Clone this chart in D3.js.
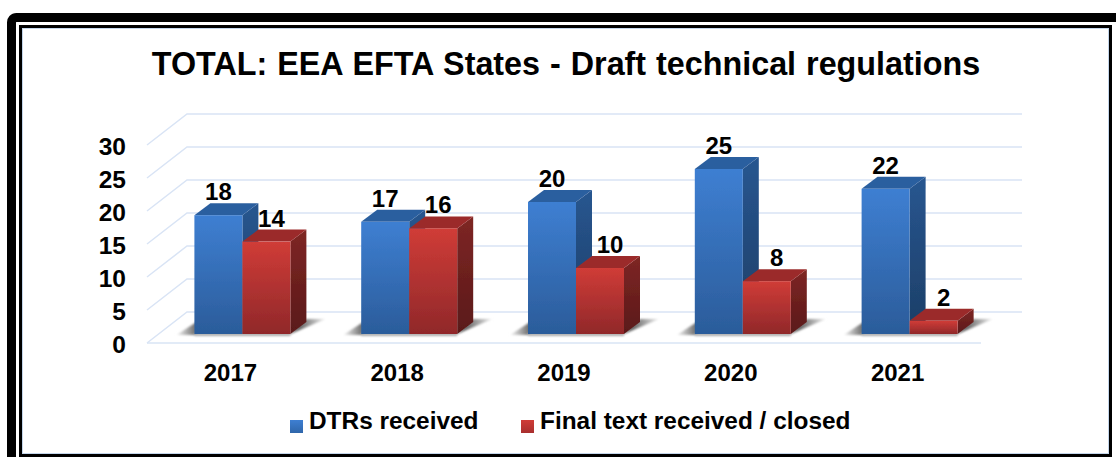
<!DOCTYPE html>
<html>
<head>
<meta charset="utf-8">
<script src="https://d3js.org/d3.v7.min.js"></script>
<title>EEA EFTA States - Draft technical regulations</title>
<style>
  body { margin: 0; background: #fff; }
  svg { display: block; }
  text { font-family: "Liberation Sans", Arial, sans-serif; font-weight: bold; fill: #000; }
</style>
</head>
<body>
<div id="chart"></div>
<script>
var years = ["2017", "2018", "2019", "2020", "2021"];
var seriesNames = ["DTRs received", "Final text received / closed"];
var dtrsReceived = [18, 17, 20, 25, 22];
var finalText = [14, 16, 10, 8, 2];
var yTicks = [0, 5, 10, 15, 20, 25, 30];

var width = 1116, height = 457;
var floorDx = 40, floorDy = 31;     // floor depth of the fake 3d box
var barDx = 16, barDy = 12;         // depth of one bar
var barShift = 12, barLift = 9;     // bars stand in the middle of the floor

var svg = d3.select("#chart").append("svg")
    .attr("width", width)
    .attr("height", height);

var defs = svg.append("defs");

function vGrad(id, top, bottom) {
  var g = defs.append("linearGradient").attr("id", id)
      .attr("x1", 0).attr("y1", 0).attr("x2", 0).attr("y2", 1);
  g.append("stop").attr("offset", "0%").attr("stop-color", top);
  g.append("stop").attr("offset", "100%").attr("stop-color", bottom);
}
vGrad("blueFront", "#3e7fd2", "#2b5c9a");
vGrad("blueSide", "#285690", "#1c3e66");
vGrad("redFront", "#d03c37", "#90282a");
vGrad("redSide", "#7e2624", "#5a1919");
vGrad("blueKey", "#3e7fd2", "#2f66aa");
vGrad("redKey", "#d03c37", "#a82f2e");

var shR = defs.append("linearGradient").attr("id", "shadowR");
shR.append("stop").attr("offset", "30%").attr("stop-color", "#666");
shR.append("stop").attr("offset", "100%").attr("stop-color", "#efefef");
var shL = defs.append("linearGradient").attr("id", "shadowL");
shL.append("stop").attr("offset", "0%").attr("stop-color", "#f8f8f8");
shL.append("stop").attr("offset", "100%").attr("stop-color", "#666");

function blur(id, dev) {
  defs.append("filter").attr("id", id)
      .attr("x", "-20%").attr("y", "-20%").attr("width", "140%").attr("height", "140%")
    .append("feGaussianBlur").attr("stdDeviation", dev);
}
blur("soft", 1);
blur("edge", 0.4);

// frame
svg.append("path")
    .attr("d", "M11.5 " + (height + 5) + "V23a5 5 0 0 1 5 -5.5H" + (width + 5))
    .attr("fill", "none").attr("stroke", "#000").attr("stroke-width", 9);
svg.append("rect")
    .attr("x", 20.5).attr("y", 26.5).attr("width", 1090).attr("height", 429)
    .attr("fill", "#fff").attr("stroke", "#000").attr("stroke-width", 3);
svg.append("rect")
    .attr("x", 22.5).attr("y", 28.5).attr("width", 1086).attr("height", 425)
    .attr("fill", "none").attr("stroke", "#c3d5ea").attr("stroke-width", 1);

// scales
var x = d3.scaleBand().domain(years).range([147, 981]);
var y = d3.scaleLinear().domain([0, 30]).range([343, 145]);
var inner = d3.scaleBand().domain(seriesNames)
    .range([x.bandwidth() / 2 - 48, x.bandwidth() / 2 + 48]);

// gridlines on back wall and side wall
var grid = svg.append("g").attr("fill", "none")
    .attr("stroke", "#d9e4f5").attr("stroke-width", 1.5);
grid.selectAll("path").data(yTicks).enter().append("path")
    .attr("d", function(d) {
      var p = d3.path();
      p.moveTo(x.range()[0], y(d));
      p.lineTo(x.range()[0] + floorDx, y(d) - floorDy);
      p.lineTo(x.range()[1] + floorDx + 1, y(d) - floorDy);
      return p.toString();
    });
grid.append("line")
    .attr("x1", x.range()[0]).attr("x2", x.range()[1])
    .attr("y1", y(0)).attr("y2", y(0));

// axes
var yAxis = svg.append("g")
    .attr("transform", "translate(126,0)")
    .call(d3.axisLeft(y).tickValues(yTicks).tickSize(0).tickPadding(0));
var xAxis = svg.append("g")
    .attr("transform", "translate(0," + y(0) + ")")
    .call(d3.axisBottom(x).tickSize(0).tickPadding(0));
yAxis.select(".domain").remove();
xAxis.select(".domain").remove();
yAxis.selectAll("text").attr("dy", 9).style("font-size", "24.5px")
    .style("font-family", "'Liberation Sans'");
xAxis.selectAll("text").attr("dy", 0).attr("y", 38).style("font-size", "24px")
    .style("font-family", "'Liberation Sans'");

function barX(year, name) { return x(year) + inner(name) + barShift; }
var base = y(0) - barLift;
var barH = function(v) { return y(0) - y(v); };

// floor shadows first, they sit under the bars
var shadows = svg.append("g").attr("filter", "url(#soft)");
years.forEach(function(yr) {
  var left = barX(yr, seriesNames[0]);
  var right = barX(yr, seriesNames[1]) + inner.bandwidth();
  shadows.append("polygon")
      .attr("points", [[left - 18, base + 1], [left + 2, base + 1], [left + 2, base - 12]].join(" "))
      .attr("fill", "url(#shadowL)");
  shadows.append("polygon")
      .attr("points", [[right - 2, base + 1], [right + barDx, base - 15], [right + barDx * 2 + 3, base - 15]].join(" "))
      .attr("fill", "url(#shadowR)");
  shadows.append("rect")
      .attr("x", left).attr("y", base - 1).attr("width", right - left).attr("height", 3)
      .attr("fill", "#aaa");
});

function drawBar(g, bx, v, front, side, topColor) {
  var w = inner.bandwidth(), h = barH(v), t = base - h;
  g.append("polygon")
      .attr("points", [[bx + w, t], [bx + w + barDx, t - barDy], [bx + w + barDx, base - barDy], [bx + w, base]].join(" "))
      .attr("fill", "url(#" + side + ")");
  g.append("polygon")
      .attr("points", [[bx, t], [bx + barDx, t - barDy], [bx + w + barDx, t - barDy], [bx + w, t]].join(" "))
      .attr("fill", topColor);
  g.append("rect")
      .attr("x", bx).attr("y", t).attr("width", w).attr("height", h)
      .attr("fill", "url(#" + front + ")");
}

// blue behind red, each year left to right
var bars = svg.append("g").attr("filter", "url(#edge)");
years.forEach(function(yr, i) {
  drawBar(bars, barX(yr, seriesNames[0]), dtrsReceived[i], "blueFront", "blueSide", "#2c5f9f");
  drawBar(bars, barX(yr, seriesNames[1]), finalText[i], "redFront", "redSide", "#9b2c2b");
});

// value labels
var labels = svg.append("g").attr("text-anchor", "middle").style("font-size", "24px");
years.forEach(function(yr, i) {
  labels.append("text")
      .attr("x", barX(yr, seriesNames[0]) + inner.bandwidth() / 2)
      .attr("y", base - barH(dtrsReceived[i]) - barDy - 3)
      .text(dtrsReceived[i]);
  labels.append("text")
      .attr("x", barX(yr, seriesNames[1]) + inner.bandwidth() / 2 + (finalText[i] > 10 ? 5 : 10))
      .attr("y", base - barH(finalText[i]) - barDy - 3)
      .text(finalText[i]);
});

// title
svg.append("text")
    .attr("x", 566).attr("y", 75)
    .attr("text-anchor", "middle")
    .style("font-size", "32.3px")
    .style("word-spacing", "1px")
    .text("TOTAL: EEA EFTA States - Draft technical regulations");

// legend
var legendX = [290, 521], legendFill = ["url(#blueKey)", "url(#redKey)"];
var legend = svg.append("g");
legend.selectAll("rect").data(seriesNames).enter().append("rect")
    .attr("x", function(d, i) { return legendX[i]; })
    .attr("y", 420).attr("width", 13).attr("height", 13)
    .attr("fill", function(d, i) { return legendFill[i]; });
legend.selectAll("text").data(seriesNames).enter().append("text")
    .attr("x", function(d, i) { return legendX[i] + 19; })
    .attr("y", 429)
    .style("font-size", "24.4px")
    .text(function(d) { return d; });
</script>
</body>
</html>
